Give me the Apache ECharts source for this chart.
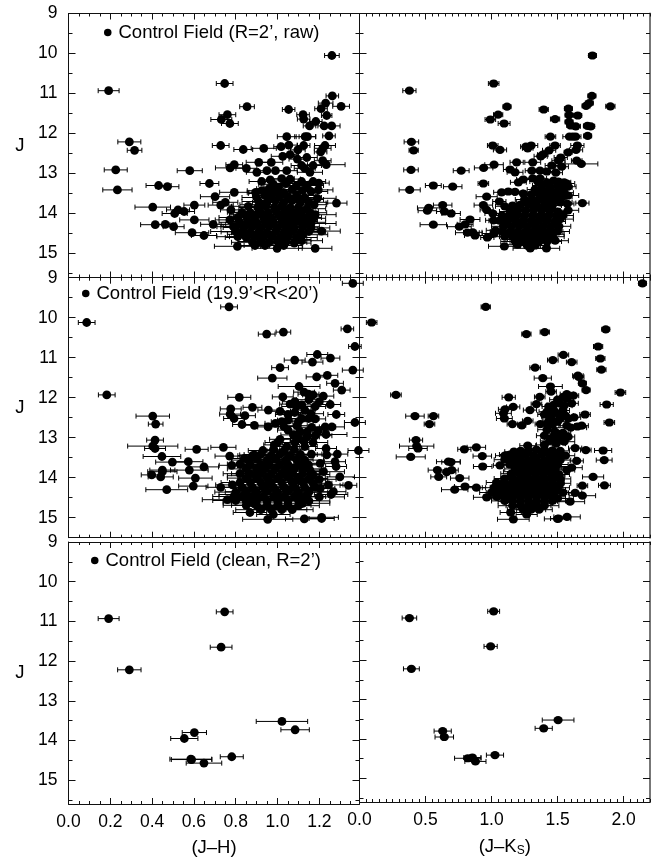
<!DOCTYPE html>
<html>
<head>
<meta charset="utf-8">
<title>Control Field</title>
<script src="https://cdn.jsdelivr.net/npm/echarts@6/dist/echarts.min.js"></script>
<style>
html, body { margin: 0; padding: 0; background: #fff; }
#chart { width: 661px; height: 858px; }
</style>
</head>
<body>
<div id="chart"></div>
<script>
// tick labels
var jTicks = [9, 10, 11, 12, 13, 14, 15];
var jhTicks = [0, 0.2, 0.4, 0.6, 0.8, 1.0, 1.2];
var jkTicks = [0, 0.5, 1.0, 1.5, 2.0];

var legendRaw = 'Control Field (R=2’, raw)';
var legendWide = 'Control Field (19.9’<R<20’)';
var legendClean = 'Control Field (clean, R=2’)';

// every star is [colour, J, half width of the error bar]
var rawJH = [
[1.26,10.05,.035],[.747,10.75,.04],[.192,10.93,.05],[1.262,11.06,.03],[1.23,11.24,.035],[1.304,11.32,.04],[.854,11.33,.035],[1.053,11.4,.03],[1.208,11.38,.03],
[1.122,11.53,.03],[.76,11.53,.04],[1.235,11.55,.025],[.731,11.65,.05],[1.125,11.64,.03],[1.183,11.7,.03],[.772,11.75,.04],[1.153,11.81,.03],[1.223,11.81,.03],[1.259,11.81,.04],
[1.044,12.08,.045],[1.246,12.06,.03],[1.132,12.08,.05],[1.143,12.08,.04],[.291,12.21,.055],[.728,12.3,.04],[1.017,12.33,.035],[1.054,12.29,.04],[1.125,12.3,.03],[1.227,12.3,.05],
[.316,12.42,.035],[.836,12.4,.045],[.934,12.37,.06],[1.097,12.41,.035],[1.216,12.37,.04],[1.206,12.46,.03],[1.025,12.57,.055],[1.06,12.53,.04],[1.095,12.64,.04],[1.14,12.6,.05],[1.216,12.68,.04],
[1.233,12.78,.09],[.91,12.72,.06],[.97,12.72,.055],[.793,12.78,.04],[.773,12.86,.07],[.851,12.87,.05],[.901,12.97,.05],[.58,12.93,.06],[.226,12.91,.055],[.949,12.93,.04],[.99,12.93,.05],[1.044,12.93,.05],
[1.115,12.8,.05],[1.13,12.87,.05],[1.17,12.8,.04],[1.155,12.97,.06],[.674,13.25,.045],[.431,13.3,.06],[.473,13.33,.055],[.234,13.41,.07],[.924,13.2,.06],[.965,13.16,.05],[1.02,13.13,.06],[1.06,13.14,.05],[1.115,13.2,.06],[1.17,13.2,.06],[1.197,13.24,.05],[1.195,13.41,.07],
[.793,13.47,.07],[.895,13.47,.04],[.701,13.58,.07],[1.282,13.74,.05],[.75,13.72,.06],[.728,13.79,.06],[.602,13.79,.05],[.403,13.84,.085],[.524,13.91,.055],[.553,13.95,.05],[.508,14.0,.06],[.777,13.91,.05],[.602,14.16,.07],[.415,14.28,.07],[.463,14.27,.05],[.503,14.33,.05],[.591,14.48,.08],[.692,14.27,.06],[.648,14.55,.06],
[.772,14.16,.07],[.789,14.33,.06],[.808,14.82,.11],[.892,14.8,.07],[.998,14.87,.12],[1.18,14.87,.08],[1.115,14.68,.1],[1.21,14.44,.09],
[.98,13.27,.07],[1.04,13.25,.08],[1.09,13.3,.07],[1.14,13.3,.08],[1.005,13.34,.07],[.96,13.38,.06],[.925,13.43,.07],[1.07,13.4,.08],[1.12,13.42,.09],[1.16,13.45,.08],[.985,13.45,.07],[1.03,13.48,.08],
[.9,13.6,.07],[.94,13.55,.06],[.97,13.6,.08],[1.01,13.56,.07],[1.05,13.58,.07],[1.09,13.55,.09],[1.13,13.6,.08],[.91,13.7,.08],[.95,13.72,.07],[.99,13.68,.08],[1.03,13.72,.08],[1.07,13.68,.09],[1.11,13.72,.08],[1.15,13.72,.09],[1.175,13.78,.06],
[.86,13.82,.08],[.905,13.85,.09],[.945,13.82,.07],[.985,13.85,.09],[1.02,13.82,.08],[1.06,13.85,.09],[1.1,13.84,.08],[1.14,13.88,.09],[.83,13.97,.07],[.87,13.98,.08],[.915,13.95,.09],[.955,13.98,.08],[.995,13.95,.1],[1.035,13.97,.08],[1.075,13.98,.09],[1.115,13.95,.08],[1.155,13.98,.08],
[.81,14.1,.09],[.85,14.07,.08],[.89,14.1,.1],[.93,14.07,.09],[.97,14.1,.08],[1.01,14.07,.1],[1.05,14.1,.09],[1.09,14.08,.08],[1.13,14.1,.08],[1.17,14.12,.06],[.82,14.22,.1],[.86,14.2,.08],[.9,14.22,.09],[.94,14.2,.1],[.98,14.22,.09],[1.02,14.2,.1],[1.06,14.22,.08],[1.1,14.2,.09],[1.14,14.22,.09],
[.8,14.33,.09],[.84,14.35,.1],[.88,14.32,.08],[.92,14.35,.1],[.96,14.32,.09],[1.0,14.35,.11],[1.04,14.33,.09],[1.08,14.35,.09],[1.12,14.33,.08],[1.16,14.36,.09],[.83,14.46,.1],[.87,14.48,.09],[.91,14.45,.11],[.95,14.48,.1],[.99,14.45,.09],[1.03,14.48,.1],[1.07,14.45,.08],[1.11,14.48,.09],[1.15,14.45,.08],
[.81,14.58,.1],[.85,14.6,.1],[.89,14.58,.12],[.93,14.6,.09],[.97,14.58,.1],[1.01,14.6,.11],[1.05,14.58,.09],[1.09,14.6,.1],[.88,14.72,.1],[.92,14.7,.11],[.96,14.72,.09],[1.0,14.7,.1],[1.04,14.72,.1],[1.08,14.74,.08],[.94,14.8,.1],[1.03,14.8,.09],
[.96,13.5,.1],[1.1,13.65,.12],[.93,13.78,.11],[1.05,13.92,.12],[.9,14.03,.13],[1.07,14.15,.12],[.95,14.28,.14],[1.06,14.4,.13],[.9,14.52,.14],[1.02,14.65,.14],[1.12,14.53,.12],[.86,14.28,.13],[.8,14.45,.12],[1.16,14.25,.12],[1.18,14.03,.1],[1.19,13.62,.09]
];
var rawJK = [
[1.764,10.05,.03],[1.016,10.75,.04],[.378,10.93,.05],[1.76,11.06,.03],[1.74,11.24,.03],[1.716,11.31,.03],[1.9,11.32,.035],[1.117,11.33,.03],[1.395,11.4,.035],[1.582,11.38,.03],[1.587,11.54,.03],[1.653,11.55,.03],[1.05,11.53,.035],[.991,11.65,.04],[1.481,11.64,.035],[1.095,11.75,.045],[1.587,11.71,.03],[1.6,11.8,.03],[1.638,11.82,.035],[1.726,11.81,.03],[1.751,11.82,.03],
[1.446,12.08,.04],[1.59,12.08,.05],[1.615,12.08,.04],[1.637,12.08,.04],[1.728,12.06,.03],[.393,12.21,.055],[1.009,12.3,.04],[1.26,12.33,.04],[1.274,12.37,.04],[1.3,12.3,.05],[1.481,12.3,.04],[1.65,12.3,.05],[.41,12.42,.035],[1.064,12.41,.05],[1.64,12.41,.05],[1.58,12.47,.03],[1.436,12.42,.05],[1.372,12.57,.05],[1.388,12.53,.04],[1.524,12.6,.05],[1.507,12.68,.05],
[1.019,12.78,.07],[1.19,12.72,.05],[1.312,12.72,.06],[1.645,12.68,.04],[1.68,12.76,.125],[.94,12.86,.07],[.39,12.91,.055],[.77,12.93,.06],[1.14,12.9,.05],[1.178,12.97,.06],[1.305,12.93,.05],[1.367,12.93,.05],[1.418,12.95,.05],[1.487,12.98,.05],[1.456,12.8,.05],[1.532,12.83,.05],
[.938,13.25,.04],[.559,13.3,.06],[.706,13.33,.07],[.38,13.41,.08],[1.203,13.22,.06],[1.24,13.15,.05],[1.312,13.12,.06],[1.367,13.12,.05],[1.506,13.2,.06],[1.57,13.25,.06],[1.076,13.47,.06],[1.127,13.45,.05],[1.178,13.46,.06],[.963,13.58,.08],[1.688,13.74,.05],[.938,13.79,.07],[1.059,13.7,.05],[.63,13.79,.07],[.524,13.86,.085],[.514,13.93,.07],[.643,13.95,.06],[.694,14.0,.07],[.963,13.91,.05],[1.01,14.0,.06],
[.837,14.15,.075],[.559,14.28,.1],[.8,14.27,.06],[.756,14.33,.09],[.817,14.48,.09],[.858,14.47,.07],[.875,14.55,.08],[1.015,14.17,.06],[1.03,14.42,.07],[.968,14.6,.05],[1.482,14.68,.1],[1.097,14.82,.12],[1.196,14.78,.08],[1.293,14.87,.13],[1.416,14.87,.1],[1.574,13.76,.05],[1.58,13.92,.08],
[1.35,13.2,.06],[1.42,13.22,.06],[1.47,13.18,.05],[1.55,13.22,.05],[1.38,13.3,.07],[1.44,13.32,.07],[1.5,13.3,.06],[1.54,13.35,.07],[1.58,13.33,.06],[1.33,13.4,.06],[1.39,13.42,.07],[1.45,13.42,.06],[1.5,13.45,.07],[1.55,13.48,.07],[1.24,13.5,.07],[1.3,13.52,.07],[1.36,13.52,.07],[1.42,13.55,.08],[1.48,13.55,.07],[1.54,13.58,.07],[1.25,13.65,.07],[1.31,13.65,.08],[1.37,13.65,.08],[1.43,13.68,.07],[1.49,13.68,.08],[1.1,13.82,.07],[1.16,13.8,.06],[1.22,13.78,.07],[1.28,13.78,.08],[1.34,13.78,.08],[1.4,13.8,.08],[1.46,13.8,.07],[1.14,13.95,.08],[1.2,13.92,.07],[1.26,13.92,.08],[1.32,13.9,.09],[1.38,13.92,.08],[1.44,13.92,.08],[1.5,13.95,.08],
[1.08,14.05,.07],[1.13,14.08,.07],[1.19,14.05,.08],[1.25,14.05,.09],[1.31,14.05,.09],[1.37,14.05,.08],[1.43,14.05,.08],[1.49,14.05,.08],[1.54,14.05,.08],[1.06,14.18,.08],[1.12,14.2,.08],[1.18,14.18,.09],[1.24,14.18,.08],[1.3,14.18,.09],[1.36,14.18,.08],[1.42,14.18,.09],[1.48,14.2,.08],[1.09,14.32,.09],[1.15,14.32,.08],[1.21,14.3,.09],[1.27,14.32,.1],[1.33,14.3,.09],[1.39,14.32,.09],[1.45,14.32,.08],[1.51,14.32,.09],[1.02,14.5,.09],[1.08,14.45,.09],[1.14,14.45,.1],[1.2,14.45,.1],[1.26,14.45,.09],[1.32,14.45,.1],[1.38,14.45,.09],[1.44,14.45,.1],[1.5,14.45,.09],[1.1,14.58,.1],[1.16,14.58,.1],[1.22,14.58,.1],[1.28,14.58,.11],[1.34,14.58,.1],[1.4,14.58,.09],[1.46,14.58,.09],[1.18,14.7,.11],[1.24,14.7,.1],[1.3,14.7,.12],[1.36,14.7,.1],[1.42,14.7,.11],[1.27,14.8,.1],[1.33,14.8,.11],
[1.29,13.72,.1],[1.45,13.6,.1],[1.35,13.85,.11],[1.17,14.0,.1],[1.41,14.12,.12],[1.22,14.25,.12],[1.36,14.38,.13],[1.18,14.52,.12],[1.3,14.52,.13],[1.43,14.52,.12],[1.25,14.65,.13],[1.38,14.65,.12],[1.52,14.14,.1],[1.52,13.72,.09],[1.58,13.55,.08]
];
var wideJH = [
[1.36,9.14,.05],[.768,9.73,.04],[.087,10.12,.04],[1.334,10.28,.03],[1.028,10.36,.035],[.948,10.41,.04],[1.37,10.72,.03],[1.19,10.92,.05],[1.082,11.06,.05],[1.167,11.11,.05],[1.253,11.01,.045],[1.012,11.25,.04],[1.36,11.31,.05],[1.187,11.48,.05],[1.238,11.44,.05],[.975,11.51,.07],[1.275,11.64,.04],[1.103,11.72,.1],[1.307,11.81,.04],[.183,11.93,.04],[.817,11.99,.055],[1.025,11.98,.05],[1.219,11.96,.05],[1.127,11.86,.05],[1.148,11.91,.05],[1.17,11.93,.05],
[.88,12.24,.045],[.776,12.28,.05],[1.252,12.17,.05],[1.116,12.18,.06],[1.083,12.1,.06],[1.06,12.16,.05],[1.18,12.22,.05],[1.13,12.31,.05],[.956,12.31,.05],[1.012,12.34,.05],[1.082,12.37,.05],[.403,12.46,.08],[.773,12.41,.05],[.844,12.45,.05],[.792,12.52,.05],[1.281,12.42,.04],[1.116,12.52,.05],[1.148,12.52,.05],[1.18,12.53,.05],[1.05,12.56,.05],[1.02,12.6,.05],[.99,12.64,.05],[.417,12.66,.035],[.83,12.67,.045],[.889,12.69,.05],[.955,12.73,.05],[1.37,12.62,.05],[1.092,12.7,.05],[1.163,12.74,.05],[1.26,12.73,.06],[1.228,12.73,.05],[1.05,12.81,.05],[1.108,12.85,.05],[1.195,12.83,.05],[1.232,12.92,.1],[1.076,12.93,.06],[1.14,12.98,.06],
[.414,13.06,.04],[1.012,13.04,.05],[1.124,13.08,.06],[1.083,13.12,.06],[.403,13.21,.12],[.414,13.27,.05],[.741,13.24,.06],[.613,13.29,.055],[.984,13.18,.05],[1.044,13.22,.06],[1.13,13.22,.06],[1.387,13.32,.05],[1.232,13.27,.05],[1.162,13.41,.05],[1.235,13.43,.06],[1.286,13.41,.05],[.447,13.47,.09],[.771,13.46,.07],[.497,13.61,.08],[.573,13.6,.07],[.578,13.81,.09],[.648,13.73,.07],[.449,13.81,.06],[.449,13.85,.07],[.398,13.93,.05],[.441,13.98,.06],[.607,14.01,.08],[.781,13.69,.06],[.841,13.52,.06],[.82,13.66,.06],[.889,13.43,.07],[1.298,13.98,.07],[1.275,13.6,.05],[1.28,13.72,.05],[1.204,13.64,.07],[1.155,13.81,.07],[1.148,13.68,.07],[.597,14.21,.07],[.47,14.3,.1],[.728,14.24,.07],[.784,14.18,.08],[1.339,14.19,.04],[1.243,14.18,.07],[1.204,14.27,.07],[1.256,14.42,.08],[1.267,14.35,.06],[.953,15.04,.12],[1.128,15.03,.09],[1.211,14.99,.08],[1.211,15.02,.06],[.868,14.87,.08],[.98,14.92,.08],
[.93,13.32,.07],[.98,13.3,.06],[1.03,13.33,.08],[1.08,13.3,.07],[.88,13.45,.07],[.92,13.42,.08],[.97,13.45,.07],[1.01,13.42,.08],[1.06,13.44,.09],[1.11,13.42,.08],[.86,13.56,.08],[.9,13.54,.08],[.95,13.56,.07],[.99,13.54,.09],[1.04,13.56,.08],[1.09,13.54,.08],[1.13,13.56,.09],[.87,13.67,.08],[.92,13.67,.09],[.96,13.66,.08],[1.01,13.67,.09],[1.05,13.67,.08],[1.1,13.66,.09],[.85,13.78,.09],[.9,13.78,.08],[.94,13.78,.1],[.99,13.78,.09],[1.04,13.78,.09],[1.08,13.78,.08],[1.12,13.78,.09],[.82,13.9,.08],[.87,13.9,.09],[.92,13.89,.09],[.97,13.9,.1],[1.02,13.89,.09],[1.07,13.9,.09],[1.12,13.9,.08],[1.17,13.92,.08],[.85,14.01,.09],[.9,14.01,.09],[.95,14.0,.1],[1.0,14.01,.09],[1.05,14.0,.1],[1.1,14.01,.09],[1.15,14.02,.09],[1.2,14.04,.08],
[.82,14.12,.09],[.87,14.12,.1],[.92,14.12,.09],[.97,14.12,.11],[1.02,14.12,.1],[1.07,14.12,.1],[1.12,14.12,.09],[1.17,14.14,.09],[.83,14.24,.1],[.88,14.24,.09],[.93,14.23,.11],[.98,14.24,.1],[1.03,14.23,.11],[1.08,14.24,.1],[1.13,14.24,.09],[1.18,14.24,.08],[.8,14.36,.1],[.85,14.35,.1],[.9,14.36,.11],[.95,14.35,.1],[1.0,14.36,.11],[1.05,14.35,.1],[1.1,14.36,.1],[1.15,14.36,.09],[.79,14.47,.1],[.83,14.47,.11],[.88,14.47,.1],[.93,14.47,.12],[.98,14.47,.11],[1.03,14.47,.11],[1.08,14.47,.1],[1.13,14.47,.1],[.8,14.57,.11],[.85,14.58,.11],[.9,14.57,.12],[.95,14.58,.11],[1.0,14.57,.12],[1.05,14.58,.11],[1.1,14.57,.1],[1.15,14.58,.1],[.85,14.69,.11],[.9,14.69,.12],[.95,14.69,.11],[1.0,14.69,.12],[1.05,14.69,.11],[1.1,14.7,.1],[.92,14.8,.12],[.97,14.8,.11],[1.02,14.8,.12],[1.07,14.8,.1],
[1.15,12.05,.06],[1.09,12.22,.07],[1.2,12.1,.05],[1.05,12.42,.06],[1.16,12.4,.06],[1.1,12.6,.07],[1.03,12.72,.07],[1.14,12.86,.08],[1.18,12.95,.08],[1.1,13.02,.08],[1.17,13.12,.07],[1.0,13.12,.06],[.95,13.7,.14],[1.06,13.84,.14],[.9,13.95,.14],[1.1,14.06,.13],[.95,14.18,.15],[1.05,14.3,.14],[.85,14.42,.13],[1.0,14.52,.15],[1.12,14.64,.13],[1.2,14.48,.12],[.88,14.63,.14],[1.22,13.85,.1],[.76,14.55,.12]
];
var wideJK = [
[2.143,9.14,.03],[.956,9.73,.035],[.092,10.12,.04],[1.865,10.29,.03],[1.403,10.36,.035],[1.264,10.41,.035],[1.807,10.72,.035],[1.544,10.93,.04],[1.464,11.06,.04],[1.607,11.11,.04],[1.824,11.02,.035],[1.33,11.25,.04],[1.832,11.3,.035],[1.654,11.45,.04],[1.66,11.48,.04],[1.388,11.51,.065],[1.688,11.64,.03],[1.446,11.72,.09],[1.716,11.81,.03],[.276,11.93,.04],[1.976,11.87,.04],[1.13,11.99,.05],[1.365,11.98,.04],[1.451,11.85,.04],[1.57,11.91,.05],[1.62,11.95,.04],
[1.872,12.17,.05],[1.34,12.16,.04],[1.164,12.23,.05],[1.291,12.31,.05],[1.102,12.29,.05],[1.09,12.39,.06],[1.708,12.42,.04],[.42,12.46,.07],[.56,12.46,.04],[1.097,12.52,.06],[.53,12.66,.04],[1.892,12.62,.04],[1.158,12.66,.04],[1.229,12.69,.03],[1.274,12.58,.04],[1.37,12.66,.04],[1.52,12.52,.05],[1.582,12.52,.05],[1.625,12.49,.05],[1.65,12.72,.05],[1.683,12.7,.05],[1.433,12.22,.05],[1.47,12.31,.05],[1.52,12.15,.05],[1.57,12.02,.05],[1.544,11.98,.05],[1.607,12.14,.05],[1.438,12.56,.05],[1.4,12.42,.05],[1.46,12.68,.06],[1.51,12.42,.05],[1.42,12.8,.07],[1.48,12.85,.06],[1.54,12.88,.06],[1.6,12.75,.12],[1.4,12.95,.06],[1.46,13.0,.06],[1.52,13.02,.05],[1.58,12.98,.05],
[.428,13.06,.05],[.433,13.21,.13],[.443,13.27,.07],[.885,13.24,.07],[.794,13.29,.05],[1.274,13.2,.06],[1.633,13.26,.05],[1.714,13.31,.04],[1.845,13.32,.065],[1.853,13.56,.06],[.388,13.48,.11],[.93,13.46,.07],[.933,13.72,.07],[.673,13.6,.09],[.693,13.61,.07],[.59,13.81,.07],[.698,13.81,.05],[.66,13.86,.07],[.6,13.98,.06],[.759,14.01,.07],[1.769,13.98,.08],[1.645,13.58,.05],[1.607,13.75,.08],[1.57,13.81,.06],[1.506,13.94,.05],[.799,14.22,.08],[.885,14.25,.07],[.721,14.3,.1],[1.064,13.69,.05],[1.688,14.2,.04],[1.855,14.19,.045],[1.688,14.45,.1],[1.633,14.38,.05],[1.595,14.6,.11],[1.165,15.04,.12],[1.5,15.03,.1],[1.572,14.98,.1],[1.507,15.02,.06],[.963,14.49,.1],[1.145,14.87,.08],[1.266,14.92,.08],
[1.17,13.35,.07],[1.22,13.33,.07],[1.28,13.32,.08],[1.34,13.3,.07],[1.4,13.3,.08],[1.46,13.32,.07],[1.52,13.33,.07],[1.1,13.45,.07],[1.14,13.42,.08],[1.2,13.44,.07],[1.26,13.42,.08],[1.32,13.44,.08],[1.38,13.42,.08],[1.44,13.44,.08],[1.5,13.45,.08],[1.56,13.45,.07],[1.1,13.55,.08],[1.16,13.56,.07],[1.22,13.55,.08],[1.28,13.56,.08],[1.34,13.55,.08],[1.4,13.56,.09],[1.46,13.55,.08],[1.52,13.56,.08],[1.14,13.67,.08],[1.2,13.67,.08],[1.26,13.66,.09],[1.32,13.67,.08],[1.38,13.66,.09],[1.44,13.67,.08],[1.5,13.67,.08],[1.18,13.78,.08],[1.24,13.78,.09],[1.3,13.78,.09],[1.36,13.78,.08],[1.42,13.78,.09],[1.48,13.78,.08],[1.15,13.9,.08],[1.21,13.9,.09],[1.27,13.9,.09],[1.33,13.89,.09],[1.39,13.9,.09],[1.45,13.9,.08],[1.51,13.92,.08],
[1.1,14.02,.08],[1.16,14.02,.09],[1.22,14.01,.09],[1.28,14.02,.1],[1.34,14.01,.09],[1.4,14.02,.09],[1.46,14.02,.09],[1.52,14.03,.08],[1.04,14.12,.08],[1.1,14.13,.09],[1.16,14.12,.09],[1.22,14.13,.1],[1.28,14.12,.09],[1.34,14.13,.1],[1.4,14.12,.09],[1.46,14.13,.09],[1.52,14.14,.08],[1.02,14.25,.09],[1.08,14.24,.09],[1.14,14.25,.1],[1.2,14.24,.09],[1.26,14.25,.1],[1.32,14.24,.11],[1.38,14.25,.09],[1.44,14.24,.1],[1.5,14.25,.09],[1.0,14.37,.09],[1.06,14.37,.1],[1.12,14.36,.1],[1.18,14.37,.1],[1.24,14.36,.11],[1.3,14.37,.1],[1.36,14.36,.1],[1.42,14.37,.1],[1.48,14.37,.09],[1.54,14.37,.08],[1.04,14.48,.1],[1.1,14.48,.11],[1.16,14.48,.1],[1.22,14.48,.11],[1.28,14.48,.12],[1.34,14.48,.11],[1.4,14.48,.1],[1.46,14.48,.1],[1.1,14.58,.1],[1.16,14.59,.11],[1.22,14.58,.11],[1.28,14.59,.12],[1.34,14.58,.11],[1.4,14.59,.1],[1.46,14.58,.1],[1.16,14.7,.11],[1.22,14.7,.11],[1.28,14.7,.12],[1.34,14.7,.11],[1.4,14.7,.11],[1.24,14.8,.12],[1.3,14.8,.11],[1.36,14.8,.1],
[1.5,12.05,.06],[1.55,12.2,.06],[1.47,12.18,.05],[1.42,12.35,.06],[1.54,12.32,.05],[1.45,12.48,.07],[1.56,12.45,.06],[1.5,12.6,.07],[1.42,12.65,.06],[1.57,12.7,.06],[1.5,12.9,.08],[1.44,13.08,.07],[1.55,13.1,.08],[1.49,13.15,.07],[1.4,13.18,.06],[1.31,13.62,.13],[1.47,13.72,.12],[1.22,13.85,.13],[1.38,14.07,.14],[1.19,14.19,.13],[1.42,14.3,.14],[1.27,14.43,.14],[1.5,14.52,.12],[1.13,14.53,.13],[1.33,14.65,.13]
];
var cleanJH = [
[.747,10.76,.04],[.192,10.93,.05],[.73,11.65,.052],[.291,12.22,.056],[1.021,13.52,.123],[1.084,13.73,.068],[.602,13.8,.058],[.554,13.95,.065],[.781,14.41,.055],[.589,14.48,.097],[.585,14.47,.1],[.648,14.57,.085]
];
var cleanJK = [
[1.016,10.76,.045],[.378,10.93,.055],[.993,11.65,.05],[.393,12.22,.06],[1.504,13.52,.12],[1.395,13.73,.065],[.63,13.8,.065],[.642,13.95,.07],[1.026,14.41,.065],[.82,14.49,.1],[.855,14.47,.065],[.878,14.57,.08]
];

var myChart = echarts.init(document.getElementById('chart'));

var fontName = '"Liberation Sans", Arial, sans-serif';
var tickSize = 17.5, textSize = 18.5;
var colLeft = [68.5, 359.5];
var colWidth = [291, 290.5];
var rowTop = [13.5, 277.7, 542];
var rowHeight = [264, 260, 264];
var jMax = [15.6, 15.5, 15.6];
var xRange = [1.392, 2.2];

// 小刻度位置
function minorValues(min, max, step, skip) {
	var out = [];
	var n = Math.round((max - min) / step);
	for (var i = 0; i <= n; i++) {
		var v = Math.round((min + i * step) * 100) / 100;
		if (v <= max && skip.indexOf(v) < 0) out.push(v);
	}
	return out;
}

// 误差棒
function renderError(params, api) {
	var cx = api.value(0), j = api.value(1), e = api.value(2);
	var a = api.coord([cx - e, j]);
	var b = api.coord([cx + e, j]);
	var style = { stroke: '#000', lineWidth: 1, fill: null };
	return {
		type: 'group',
		children: [
			{ type: 'line', shape: { x1: a[0], y1: a[1], x2: b[0], y2: b[1] }, style: style },
			{ type: 'line', shape: { x1: a[0], y1: a[1] - 2.5, x2: a[0], y2: a[1] + 2.5 }, style: style },
			{ type: 'line', shape: { x1: b[0], y1: b[1] - 2.5, x2: b[0], y2: b[1] + 2.5 }, style: style }
		]
	};
}

var grids = [], xAxes = [], yAxes = [], series = [], legends = [];
var panels = [
	{ row: 0, col: 0, data: rawJH },
	{ row: 0, col: 1, data: rawJK },
	{ row: 1, col: 0, data: wideJH },
	{ row: 1, col: 1, data: wideJK },
	{ row: 2, col: 0, data: cleanJH },
	{ row: 2, col: 1, data: cleanJK }
];
var legendNames = [legendRaw, legendWide, legendClean];
var legendPos = [[104, 23], [82, 284], [91, 551]];

panels.forEach(function (p) {
	var g = grids.length;
	var xMajor = p.col == 0 ? jhTicks : jkTicks;
	var xMinor = minorValues(0, xRange[p.col], 0.05, xMajor);
	var yMinor = minorValues(9, jMax[p.row], 0.5, jTicks);
	var lineColor = '#111';

	grids.push({ left: colLeft[p.col], top: rowTop[p.row], width: colWidth[p.col], height: rowHeight[p.row] });

	var xIdx = xAxes.length, yIdx = yAxes.length;

	[['bottom', xMajor, 6], ['bottom', xMinor, 3], ['top', xMajor, 6], ['top', xMinor, 3]].forEach(function (a, i) {
		var isLabel = i == 0 && p.row == 2;
		var axis = {
			type: 'value', gridIndex: g, position: a[0], min: 0, max: xRange[p.col], interval: 0.2, scale: true,
			splitLine: { show: false },
			axisLine: { show: i % 2 == 0, onZero: false, lineStyle: { color: lineColor, width: 1 } },
			axisTick: { inside: true, length: a[2], customValues: a[1], lineStyle: { color: lineColor, width: 1 } },
			axisLabel: { show: isLabel, customValues: xMajor, margin: 9, color: '#000', fontSize: tickSize, fontFamily: fontName, formatter: function (v) { return v.toFixed(1); } }
		};
		if (isLabel) {
			axis.nameLocation = 'middle';
			axis.nameGap = 34;
			axis.name = p.col == 0 ? '(J–H)' : '(J–K{s|S})';
			axis.nameTextStyle = { color: '#000', fontSize: textSize, fontFamily: fontName, rich: { s: { fontSize: 12, padding: [9, 0, 0, 0], color: '#000', fontFamily: fontName } } };
		}
		xAxes.push(axis);
	});

	[['left', jTicks, 7], ['left', yMinor, 4], ['right', jTicks, 7], ['right', yMinor, 4]].forEach(function (a, i) {
		var isLabel = i == 0 && p.col == 0;
		var rightEdge = i == 2 && p.col == 1;
		var axis = {
			type: 'value', gridIndex: g, position: a[0], min: 9, max: jMax[p.row], interval: 1, inverse: true,
			splitLine: { show: false },
			axisLine: { show: i % 2 == 0, onZero: false, lineStyle: { color: rightEdge ? '#777' : lineColor, width: rightEdge ? 2 : 1 } },
			axisTick: { inside: true, length: a[2], customValues: a[1], lineStyle: { color: lineColor, width: 1 } },
			axisLabel: { show: isLabel, customValues: jTicks, margin: 11, color: '#000', fontSize: tickSize, fontFamily: fontName }
		};
		if (isLabel) {
			axis.name = 'J';
			axis.nameLocation = 'middle';
			axis.nameRotate = 0;
			axis.nameGap = 44;
			axis.nameTextStyle = { color: '#000', fontSize: textSize, fontFamily: fontName, padding: [0, 0, 10, 0] };
		}
		yAxes.push(axis);
	});

	series.push({
		type: 'custom', xAxisIndex: xIdx, yAxisIndex: yIdx, renderItem: renderError, data: p.data,
		encode: { x: 0, y: 1 }, silent: true, z: 2
	});
	var scatter = {
		type: 'scatter', xAxisIndex: xIdx, yAxisIndex: yIdx, data: p.data, clip: false,
		symbol: 'circle', symbolSize: p.col == 0 ? 8.8 : [9.2, 8.2],
		itemStyle: { color: '#000', opacity: 1 }, silent: true, z: 3,
		encode: { x: 0, y: 1 }
	};
	if (p.col == 0) {
		scatter.name = legendNames[p.row];
		legends.push({
			data: [legendNames[p.row]], selectedMode: false, icon: 'circle',
			left: legendPos[p.row][0], top: legendPos[p.row][1],
			itemWidth: 7.5, itemHeight: 7.5, padding: 0,
			textStyle: { color: '#000', fontSize: textSize, fontFamily: fontName, padding: [0, 0, 0, 2] }
		});
	}
	series.push(scatter);
});

myChart.setOption({
	animation: false,
	backgroundColor: '#fff',
	grid: grids,
	xAxis: xAxes,
	yAxis: yAxes,
	legend: legends,
	series: series
});
</script>
</body>
</html>
